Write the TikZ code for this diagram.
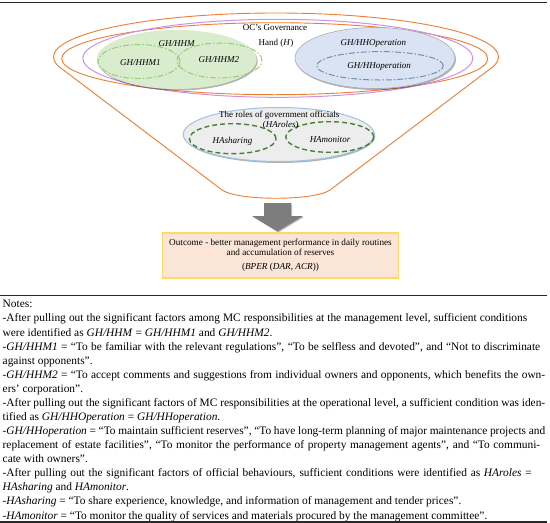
\documentclass[tikz,border=0pt]{standalone}
\usepackage{fontspec}
\setmainfont{Liberation Serif}
\usetikzlibrary{shapes.geometric,shadows,calc}
\definecolor{funnelorange}{RGB}{237,125,49}
\definecolor{lilac}{RGB}{205,145,228}
\definecolor{greenfill}{RGB}{217,236,206}
\definecolor{greendash}{RGB}{150,205,120}
\definecolor{bluefill}{RGB}{218,227,243}
\definecolor{blueedge}{RGB}{165,170,180}
\definecolor{bluedash}{RGB}{120,140,170}
\definecolor{rolesfill}{RGB}{237,237,237}
\definecolor{rolesedge}{RGB}{157,195,230}
\definecolor{darkgreen}{RGB}{70,130,50}
\definecolor{outfill}{RGB}{251,229,214}
\definecolor{outedge}{RGB}{255,217,102}
\definecolor{arrowgray}{RGB}{125,125,125}
\definecolor{rulegray}{RGB}{40,40,40}
\newcommand{\jline}[2]{\makebox[#1pt][s]{#2}}
\begin{document}
\begin{tikzpicture}[x=1pt,y=-1pt,
  lbl/.style={inner sep=0pt, font=\fontsize{9}{10.8}\selectfont},
  ilbl/.style={lbl, font=\fontsize{9}{10.8}\selectfont\itshape},
  ell/.style={ellipse, inner sep=0pt},
  dashdot/.style={dash pattern=on 6pt off 2pt on 1.5pt off 2pt, line width=1pt},
  greendashed/.style={draw=darkgreen, dash pattern=on 5pt off 3pt, line width=1.4pt},
  noteline/.style={anchor=base west, inner sep=0pt, font=\fontsize{11.4}{14}\selectfont},
  shad/.style={drop shadow={shadow xshift=1pt, shadow yshift=-1.5pt, opacity=0.3, fill=black}}
]
\useasboundingbox (0,0) rectangle (550,523);
\draw[rulegray, line width=1pt] (0,2.5) -- (547,2.5);

% funnel
\coordinate (fl) at (222,190);
\coordinate (fr) at (330,190);
\coordinate (fc) at (276,57);
\draw[funnelorange, line width=0.9pt, line join=round] (fc) ++(162.9:222.5 and 44)
  arc[start angle=162.9, end angle=377.1, x radius=222.5, y radius=44]
  -- (fr) .. controls (314,201) and (238,201) .. (fl) -- cycle;

% governance ellipses
\node[ell, draw=funnelorange, line width=0.9pt, minimum width=426pt, minimum height=72pt] (hand) at (274.7,58.7) {};
\node[ell, draw=lilac, line width=1pt, minimum width=390pt, minimum height=78pt] (gov) at (277.8,58.3) {};

% management level
\node[ell, fill=greenfill, shad, minimum width=160pt, minimum height=59pt] (hhm) at (176.7,59.5) {};
\node[ell, draw=greendash, dashdot, minimum width=82pt, minimum height=34pt] (hhm1) at (139,61.5) {};
\node[ell, draw=greendash, dashdot, minimum width=85pt, minimum height=35pt] (hhm2) at (219.5,60.5) {};

% operational level
\node[ell, fill=bluefill, draw=blueedge, line width=0.6pt, shad, minimum width=160pt, minimum height=61pt] (hho) at (375,58) {};
\node[ell, draw=bluedash, dashdot, minimum width=126.6pt, minimum height=28.4pt] (hhop) at (380,65.8) {};

% labels
\node[lbl] (govt1) at (275,27.5) {OC’s Governance};
\node[lbl] (govt2) at (276,43) {Hand (\textit{H})};
\node[ilbl] (hhmt) at (176.7,43.3) {GH/HHM};
\node[ilbl] (hhm1t) at (140.3,62.7) {GH/HHM1};
\node[ilbl] (hhm2t) at (218.8,60) {GH/HHM2};
\node[ilbl] (hhot) at (373.3,43.3) {GH/HHOperation};
\node[ilbl] (hhopt) at (379.2,66.7) {GH/HHoperation};

% roles of government officials
\node[ell, fill=rolesfill, draw=rolesedge, line width=1pt, shad, minimum width=191pt, minimum height=54pt] (roles) at (278.7,134.5) {};
\node[ell, greendashed, minimum width=86.6pt, minimum height=30pt] (hash) at (232.7,138.7) {};
\node[ell, greendashed, minimum width=88pt, minimum height=30.6pt] (hamon) at (329.8,137) {};
\node[lbl] (rolest1) at (279.2,115) {The roles of government officials};
\node[lbl] (rolest2) at (280.8,125.5) {(\textit{HAroles})};
\node[ilbl] (hasht) at (232.5,141.2) {HAsharing};
\node[ilbl] (hamont) at (330,140) {HAmonitor};

% arrow
\coordinate (arrtop) at (277.5,203);
\fill[arrowgray, drop shadow={shadow xshift=1pt, shadow yshift=-1pt, opacity=0.25, fill=black}]
  ($(arrtop)+(-13.5,0)$) -- ($(arrtop)+(13.5,0)$) -- ($(arrtop)+(13.5,13)$) -- ($(arrtop)+(25.5,13)$)
  -- ($(arrtop)+(0,28.5)$) -- ($(arrtop)+(-25.5,13)$) -- ($(arrtop)+(-13.5,13)$) -- cycle;

% outcome
\node[draw=outedge, fill=outfill, line width=1.2pt, minimum width=235.6pt, minimum height=45pt, inner sep=0pt, align=center, font=\fontsize{9.2}{9.4}\selectfont] (outcome) at (280.5,255.5)
  {Outcome - better management performance in daily routines\\and accumulation of reserves\\[5pt](\textit{BPER} (\textit{DAR}, \textit{ACR}))};

% notes
\draw[rulegray, line width=0.7pt] (0,295) -- (547,295);
\node[noteline] (n1) at (2.5,307.8) {Notes:};
\node[noteline] (n2) at (2.5,321.9) {\jline{524.5}{-After pulling out the significant factors among MC responsibilities at the management level, sufficient conditions}};
\node[noteline] (n3) at (2.5,336.0) {were identified as \textit{GH/HHM} = \textit{GH/HHM1} and \textit{GH/HHM2}.};
\node[noteline] (n4) at (2.5,350.0) {\jline{537.5}{-\textit{GH/HHM1} = “To be familiar with the relevant regulations”, “To be selfless and devoted”, and “Not to discriminate}};
\node[noteline] (n5) at (2.5,364.1) {against opponents”.};
\node[noteline] (n6) at (2.5,378.2) {\jline{542.5}{-\textit{GH/HHM2} = “To accept comments and suggestions from individual owners and opponents, which benefits the own-}};
\node[noteline] (n7) at (2.5,392.3) {ers’ corporation”.};
\node[noteline] (n8) at (2.5,406.4) {\jline{542.5}{-After pulling out the significant factors of MC responsibilities at the operational level, a sufficient condition was iden-}};
\node[noteline] (n9) at (2.5,420.4) {tified as \textit{GH/HHOperation} = \textit{GH/HHoperation}.};
\node[noteline] (n10) at (2.5,434.5) {\jline{542.5}{-\textit{GH/HHoperation} = “To maintain sufficient reserves”, “To have long-term planning of major maintenance projects and}};
\node[noteline] (n11) at (2.5,448.6) {\jline{537.5}{replacement of estate facilities”, “To monitor the performance of property management agents”, and “To communi-}};
\node[noteline] (n12) at (2.5,462.7) {cate with owners”.};
\node[noteline] (n13) at (2.5,476.8) {\jline{529}{-After pulling out the significant factors of official behaviours, sufficient conditions were identified as \textit{HAroles} =}};
\node[noteline] (n14) at (2.5,490.8) {\textit{HAsharing} and \textit{HAmonitor}.};
\node[noteline] (n15) at (2.5,504.9) {-\textit{HAsharing} = “To share experience, knowledge, and information of management and tender prices”.};
\node[noteline] (n16) at (2.5,519.0) {-\textit{HAmonitor} = “To monitor the quality of services and materials procured by the management committee”.};
\draw[rulegray, line width=1.4pt] (0,522) -- (547,522);
\end{tikzpicture}
\end{document}
